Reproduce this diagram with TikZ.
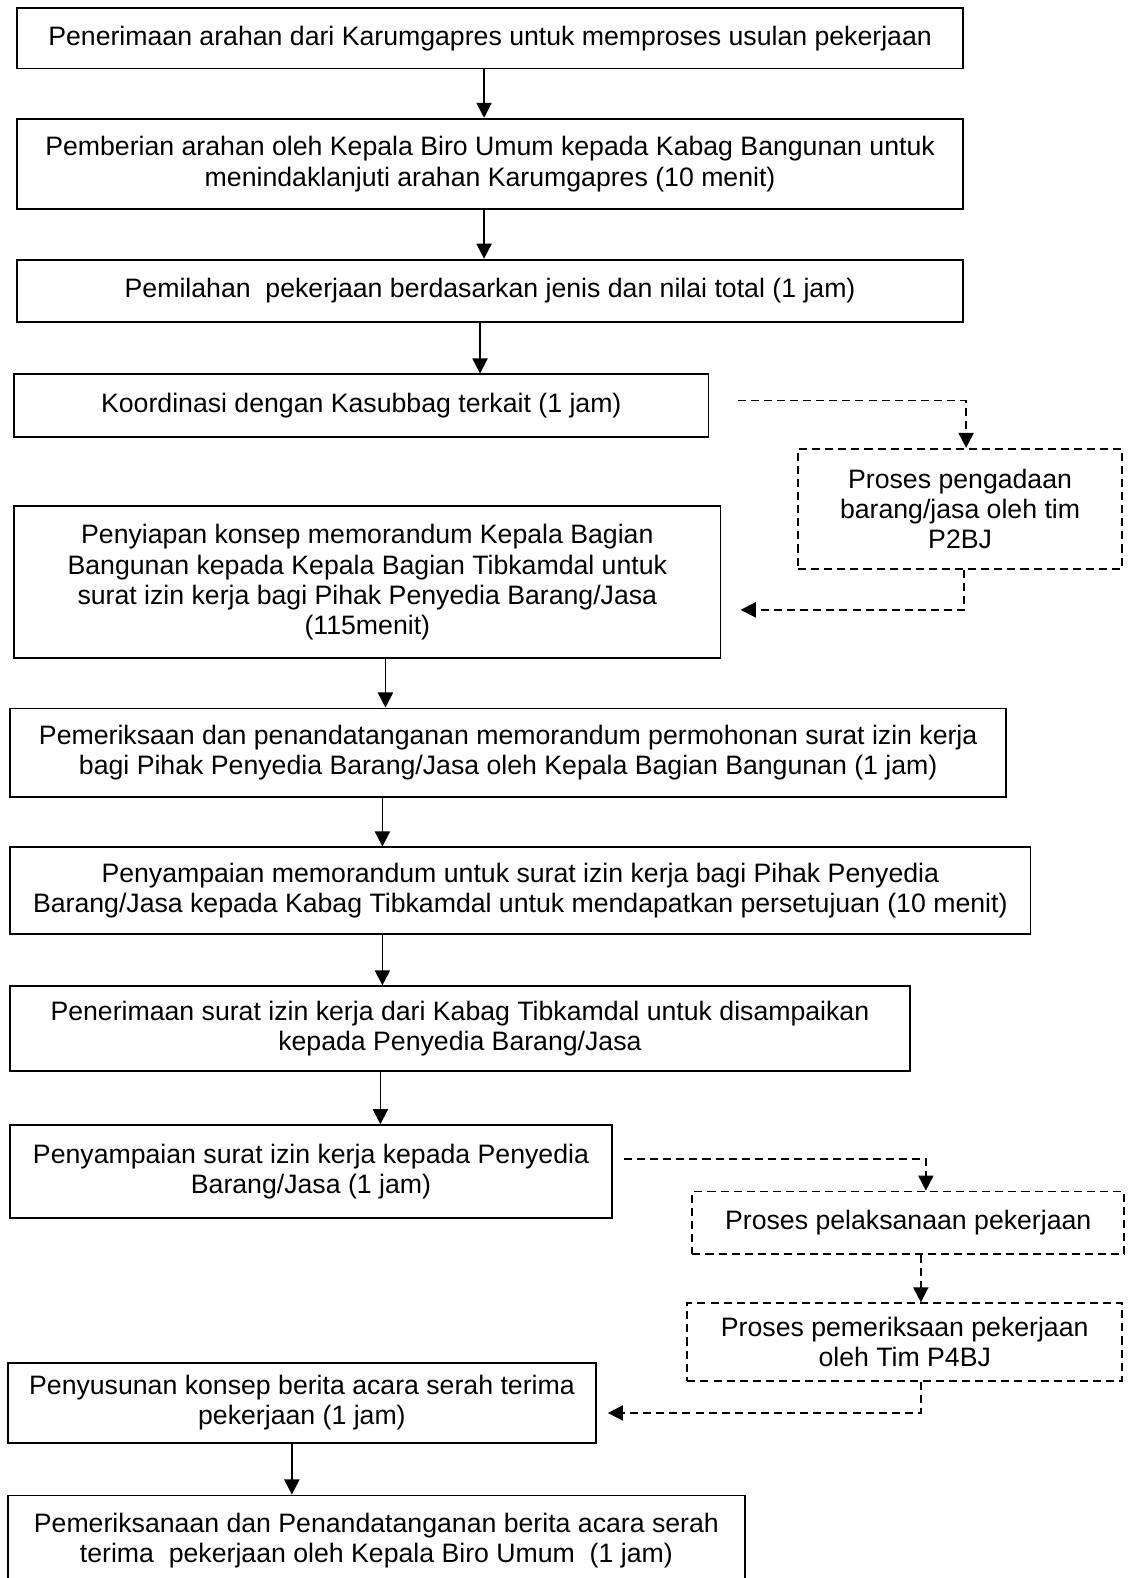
\documentclass[tikz,border=0pt]{standalone}
\usepackage{fontspec}
\setmainfont{Liberation Sans}
\usetikzlibrary{arrows.meta}
\tikzset{
  box/.style={draw, line width=0.9pt, inner sep=0pt, align=center, font=\fontsize{13.25pt}{15pt}\selectfont},
  dbox/.style={box, dash pattern=on 4pt off 2.5pt},
  arr/.style={line width=0.9pt, -{Triangle[length=7.5pt,width=7.5pt]}},
  darr/.style={arr, dash pattern=on 4pt off 2.5pt},
}
\newcommand\mybox[7]{%
  \node[#1, minimum width={(#5-#3)*0.5pt}, minimum height={(#6-#4)*0.5pt}] (#2) at ({(#3+#5)/2},{(#4+#6)/2}) {#7};}
\begin{document}
\begin{tikzpicture}[x=0.5pt,y=-0.5pt]
\clip (0,0) rectangle (1127,1568);
\fill[white] (0,0) rectangle (1127,1568);
\mybox{box}{n1}{17}{8}{957}{68}{Penerimaan arahan dari Karumgapres untuk memproses usulan pekerjaan}
\mybox{box}{n2}{17}{118}{957}{208}{Pemberian arahan oleh Kepala Biro Umum kepada Kabag Bangunan untuk\\menindaklanjuti arahan Karumgapres (10 menit)}
\mybox{box}{n3}{17}{258}{957}{320}{Pemilahan\ \ pekerjaan berdasarkan jenis dan nilai total (1 jam)}
\mybox{box}{n4}{14}{372}{704}{434}{Koordinasi dengan Kasubbag terkait (1 jam)}
\mybox{dbox}{n5}{793}{446}{1115}{565}{Proses pengadaan\\barang/jasa oleh tim\\P2BJ}
\mybox{box}{n6}{14}{503}{716}{654}{Penyiapan konsep memorandum Kepala Bagian\\Bangunan kepada Kepala Bagian Tibkamdal untuk\\surat izin kerja bagi Pihak Penyedia Barang/Jasa\\(115menit)}
\mybox{box}{n7}{10}{704}{1000}{792}{Pemeriksaan dan penandatanganan memorandum permohonan surat izin kerja\\bagi Pihak Penyedia Barang/Jasa oleh Kepala Bagian Bangunan (1 jam)}
\mybox{box}{n8}{10}{842}{1024}{928}{Penyampaian memorandum untuk surat izin kerja bagi Pihak Penyedia\\Barang/Jasa kepada Kabag Tibkamdal untuk mendapatkan persetujuan (10 menit)}
\mybox{box}{n9}{10}{980}{904}{1064}{Penerimaan surat izin kerja dari Kabag Tibkamdal untuk disampaikan\\kepada Penyedia Barang/Jasa}
\mybox{box}{n10}{10}{1118}{608}{1210}{Penyampaian surat izin kerja kepada Penyedia\\Barang/Jasa (1 jam)}
\mybox{dbox}{n11}{688}{1184}{1117}{1246}{Proses pelaksanaan pekerjaan}
\mybox{dbox}{n12}{683}{1295}{1115}{1372}{Proses pemeriksaan pekerjaan\\oleh Tim P4BJ}
\mybox{box}{n13}{8}{1354}{592}{1434}{Penyusunan konsep berita acara serah terima\\pekerjaan (1 jam)}
\mybox{box}{n14}{8}{1486}{740}{1575}{Pemeriksanaan dan Penandatanganan berita acara serah\\terima\ \ pekerjaan oleh Kepala Biro Umum\ \ (1 jam)}
% solid arrows
\draw[arr] (n1.south -| 481,0) -- (n2.north -| 481,0);
\draw[arr] (n2.south -| 481,0) -- (n3.north -| 481,0);
\draw[arr] (n3.south -| 477,0) -- (n4.north -| 477,0);
\draw[arr] (n6.south -| 383,0) -- (n7.north -| 383,0);
\draw[arr] (n7.south -| 380,0) -- (n8.north -| 380,0);
\draw[arr] (n8.south -| 380,0) -- (n9.north -| 380,0);
\draw[arr] (n9.south -| 378,0) -- (n10.north -| 378,0);
\draw[arr] (n13.south -| 290,0) -- (n14.north -| 290,0);
% dashed connectors
\coordinate (a1) at (733,398);
\draw[darr] (a1) -- (960,398) -- (n5.north -| 960,0);
\coordinate (a2) at (736,606);
\draw[darr] (n5.south -| 958,0) -- (958,606) -- (a2);
\coordinate (a3) at (620,1152);
\draw[darr] (a3) -- (920,1152) -- (n11.north -| 920,0);
\draw[darr] (n11.south -| 915,0) -- (n12.north -| 915,0);
\coordinate (a4) at (604,1404);
\draw[darr] (n12.south -| 915,0) -- (915,1404) -- (a4);
\end{tikzpicture}
\end{document}
